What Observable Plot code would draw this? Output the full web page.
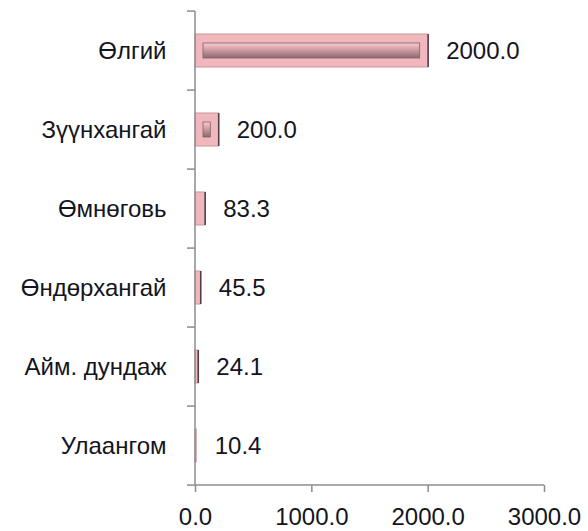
<!DOCTYPE html>
<html><head><meta charset="utf-8">
<script src="https://cdn.jsdelivr.net/npm/d3@7"></script>
<script src="https://cdn.jsdelivr.net/npm/@observablehq/plot@0.6"></script>
<style>body{margin:0;background:#fff}</style>
</head><body><div id="chart"></div>
<script>
const categories = ["Өлгий", "Зүүнхангай", "Өмнөговь", "Өндөрхангай", "Айм. дундаж", "Улаангом"];
const values = [2000.0, 200.0, 83.3, 45.5, 24.1, 10.4];
const xTicks = [0, 1000, 2000, 3000];
const data = categories.map((name, i) => ({name, value: values[i]}));

const PI = 0.58;
const axisColor = "#8c8c8c";
const textColor = "#141420";

const defsMark = () => {
  const defs = d3.create("svg:defs");
  const g = defs.append("linearGradient").attr("id", "bevel").attr("x1", 0).attr("x2", 0).attr("y1", 0).attr("y2", 1);
  g.append("stop").attr("offset", "0%").attr("stop-color", "#f6cdd0");
  g.append("stop").attr("offset", "35%").attr("stop-color", "#dca6ab");
  g.append("stop").attr("offset", "100%").attr("stop-color", "#8a6a71");
  return defs.node();
};

const frameMark = (index, scales, values, dims) => {
  const y = scales.y;
  const ys = categories.map(c => y(c));
  const step = ys[1] - ys[0];
  const bw = step * (1 - PI);
  const bounds = ys.map(v => v - step * PI / 2);
  bounds.push(ys[ys.length - 1] + bw + step * PI / 2);
  const x0 = dims.marginLeft;
  const yb = dims.height - dims.marginBottom;
  const g = d3.create("svg:g").attr("stroke", axisColor).attr("stroke-width", 1.5).attr("fill", "none");
  bounds.forEach(b => g.append("line").attr("x1", x0 - 8).attr("x2", x0).attr("y1", b).attr("y2", b));
  g.append("line").attr("x1", x0).attr("x2", x0).attr("y1", dims.marginTop).attr("y2", yb);
  g.append("line").attr("x1", x0).attr("x2", dims.width - dims.marginRight).attr("y1", yb).attr("y2", yb);
  return g.node();
};

const chart = Plot.plot({
  width: 588,
  height: 531,
  marginLeft: 195,
  marginRight: 44,
  marginTop: 11,
  marginBottom: 46,
  style: {fontFamily: "'Liberation Sans', Arial, sans-serif", fontSize: "24px", color: textColor, background: "#fff"},
  x: {domain: [0, 3000], label: null},
  y: {domain: categories, paddingInner: PI, paddingOuter: PI / 2, label: null},
  marks: [
    defsMark,
    Plot.barX(data, {y: "name", x: "value", fill: "#f0b8bc", stroke: "#c4979d", strokeWidth: 1}),
    Plot.barX(data.filter(d => d.value >= 150), {y: "name", x1: 0, x2: "value", insetLeft: 8, insetRight: 8, insetTop: 9, insetBottom: 9, fill: "url(#bevel)", stroke: "#7e636a", strokeWidth: 0.8}),
    Plot.tickX(data.filter(d => d.value >= 20), {y: "name", x: "value", stroke: "#4e3d42", strokeWidth: 1.5}),
    frameMark,
    Plot.axisX({ticks: xTicks, tickFormat: d3.format(".1f"), tickSize: 7, tickPadding: 15, stroke: axisColor, strokeWidth: 1.5, fill: textColor, label: null}),
    Plot.axisY({tickSize: 0, tickPadding: 29, fill: textColor, label: null}),
    Plot.text(data, {y: "name", x: "value", text: d => d.value.toFixed(1), dx: 18, textAnchor: "start", fill: textColor})
  ]
});
document.getElementById("chart").appendChild(chart);
</script>
</body></html>
